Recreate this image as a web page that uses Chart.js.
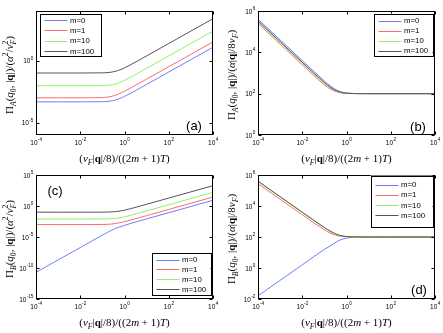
<!DOCTYPE html>
<html>
<head>
<meta charset="utf-8">
<script src="https://cdn.jsdelivr.net/npm/chart.js@4.4.1/dist/chart.umd.min.js"></script>
<style>
  html, body { margin: 0; padding: 0; background: #fff; }
  #wrap { position: relative; width: 443px; height: 333px; overflow: hidden; }
  canvas { position: absolute; }
</style>
</head>
<body>
<div id="wrap">
  <canvas id="pa" width="222" height="166" style="left:0;top:0"></canvas>
  <canvas id="pb" width="221" height="166" style="left:222px;top:0"></canvas>
  <canvas id="pc" width="222" height="167" style="left:0;top:166px"></canvas>
  <canvas id="pd" width="221" height="167" style="left:222px;top:166px"></canvas>
</div>
<script>
// x positions (v_F|q|/8)/((2m+1)T)
const xs = [1e-4, 1e-3, 1e-2, 0.1, 0.2, 0.4, 0.7, 1, 2, 4, 10, 100, 1000, 1e4];
const seriesNames = ['m=0', 'm=1', 'm=10', 'm=100'];

// (a) Pi_A / (alpha^2 / v_F^2)
const aM0   = [4.7e-4, 4.7e-4, 4.7e-4, 4.85e-4, 5.3e-4, 6.7e-4, 9.7e-4, 1.3e-3, 2.45e-3, 4.8e-3, 0.012, 0.12, 1.2, 12];
const aM1   = [1e-3, 1e-3, 1e-3, 1.05e-3, 1.19e-3, 1.63e-3, 2.47e-3, 3.4e-3, 6.5e-3, 0.013, 0.032, 0.32, 3.2, 32];
const aM10  = [0.0093, 0.0093, 0.0093, 0.0096, 0.0105, 0.0133, 0.019, 0.0256, 0.0485, 0.095, 0.24, 2.4, 24, 240];
const aM100 = [0.1, 0.1, 0.1, 0.103, 0.111, 0.138, 0.194, 0.258, 0.49, 0.96, 2.4, 24, 240, 2400];

// (b) Pi_A / (alpha|q|/8v_F)
const bM0   = [4e5, 4e4, 4000, 412, 224, 141, 115, 108, 102, 100.5, 100, 100, 100, 100];
const bM1   = [2.5e5, 2.5e4, 2500, 269, 160, 118, 106, 103, 101, 100.2, 100, 100, 100, 100];
const bM10  = [3e5, 3e4, 3000, 316, 180, 125, 109, 104.5, 101, 100.3, 100, 100, 100, 100];
const bM100 = [3.3e5, 3.3e4, 3300, 346, 194, 130, 111, 105, 101.4, 100.3, 100, 100, 100, 100];

// (c) Pi_B / (alpha^2 / v_F^2)
const cM0   = [2e-11, 2e-9, 2e-7, 2e-5, 7.5e-5, 2.5e-4, 5e-4, 7.5e-4, 1.6e-3, 3.3e-3, 8.3e-3, 0.083, 0.83, 8.3];
const cM1   = [1e-3, 1e-3, 1e-3, 1.04e-3, 1.14e-3, 1.5e-3, 2.2e-3, 2.95e-3, 5.6e-3, 0.011, 0.028, 0.28, 2.8, 28];
const cM10  = [0.008, 0.008, 0.008, 0.0082, 0.0086, 0.0102, 0.0138, 0.0179, 0.033, 0.0645, 0.16, 1.6, 16, 160];
const cM100 = [0.1, 0.1, 0.1, 0.102, 0.107, 0.125, 0.166, 0.214, 0.39, 0.76, 1.9, 19, 190, 1900];

// (d) Pi_B / (alpha|q|/8v_F)
const dM0   = [0.016, 0.16, 1.6, 15.8, 28.5, 53.9, 74.6, 84.8, 95.5, 98.8, 99.8, 100, 100, 100];
const dM1   = [2.75e5, 2.75e4, 2750, 293, 170, 121, 107, 104, 101, 100.2, 100, 100, 100, 100];
const dM10  = [3.8e5, 3.8e4, 3800, 393, 213, 138, 113, 107, 101.8, 100.45, 100, 100, 100, 100];
const dM100 = [4e5, 4e4, 4000, 412, 224, 141, 115, 108, 102, 100.5, 100, 100, 100, 100];

// tick values
const xTicks = [1e-4, 1e-2, 1, 1e2, 1e4];
const aTicks = [1e-5, 1];
const bTicks = [1, 1e2, 1e4, 1e6];
const cTicks = [1e-15, 1e-10, 1e-5, 1, 1e5];
const dTicks = [1e-2, 1, 1e2, 1e4, 1e6];

const colors = ['#6e7cff', '#ff6a6a', '#8ef26a', '#555555'];
const SANS = "'Liberation Sans', Arial, sans-serif";
const SERIF = "'Liberation Serif', 'DejaVu Serif', serif";

// little rich text drawer for the math labels
function drawRich(ctx, parts, cx, cy, size, rot) {
  const fonts = {
    r: size + 'px ' + SERIF,
    i: 'italic ' + size + 'px ' + SERIF,
    b: 'bold ' + size + 'px ' + SERIF,
    sub: 'italic ' + (size * 0.7) + 'px ' + SERIF,
    subr: (size * 0.7) + 'px ' + SERIF,
    sup: (size * 0.7) + 'px ' + SERIF
  };
  const items = [];
  let total = 0;
  parts.forEach(([t, k]) => {
    if (k === 'ss') {
      const [lo, hi] = t.split('|');
      ctx.font = fonts.sub; const w1 = ctx.measureText(lo).width;
      ctx.font = fonts.sup; const w2 = ctx.measureText(hi).width;
      items.push({ t: lo, f: fonts.sub, dy: size * 0.3, x: total });
      items.push({ t: hi, f: fonts.sup, dy: -size * 0.42, x: total });
      total += Math.max(w1, w2);
    } else {
      ctx.font = fonts[k];
      const w = ctx.measureText(t).width;
      const dy = (k === 'sub' || k === 'subr') ? size * 0.3 : (k === 'sup' ? -size * 0.42 : 0);
      items.push({ t: t, f: fonts[k], dy: dy, x: total });
      total += w;
    }
  });
  ctx.save();
  ctx.translate(cx, cy);
  ctx.rotate(rot);
  ctx.fillStyle = '#000';
  ctx.textAlign = 'left';
  ctx.textBaseline = 'alphabetic';
  items.forEach(it => {
    ctx.font = it.f;
    ctx.fillText(it.t, it.x - total / 2, size * 0.33 + it.dy);
  });
  ctx.restore();
}

const xTitle = [['(', 'r'], ['v', 'i'], ['F', 'sub'], ['|', 'r'], ['q', 'b'], ['|/8)/((2', 'r'], ['m', 'i'], [' + 1)', 'r'], ['T', 'i'], [')', 'r']];
function yTitle(sub, squared) {
  const head = [['Π', 'r'], [sub, 'sub'], ['(', 'r'], ['q', 'i'], ['0', 'subr'], [', |', 'r'], ['q', 'b'], ['|)/(', 'r'], ['α', 'i']];
  if (squared) return head.concat([['2', 'sup'], ['/', 'r'], ['v', 'i'], ['F|2', 'ss'], [')', 'r']]);
  return head.concat([['|', 'r'], ['q', 'b'], ['|/8', 'r'], ['v', 'i'], ['F', 'sub'], [')', 'r']]);
}

function powLabel(ctx, v, x, y, align) {
  const e = String(Math.round(Math.log10(v)));
  ctx.font = '6.5px ' + SANS;
  const w1 = ctx.measureText('10').width;
  ctx.font = '4.6px ' + SANS;
  const w2 = ctx.measureText(e).width;
  const x0 = align === 'right' ? x - w1 - w2 : x - (w1 + w2) / 2;
  ctx.fillStyle = '#000';
  ctx.textAlign = 'left';
  ctx.textBaseline = 'alphabetic';
  ctx.font = '6.5px ' + SANS;
  ctx.fillText('10', x0, y);
  ctx.font = '4.6px ' + SANS;
  ctx.fillText(e, x0 + w1 + 0.3, y - 3.6);
}

const decor = {
  id: 'decor',
  afterDraw(chart, args, o) {
    const { ctx, chartArea: a, scales } = chart;
    const sx = scales.x, sy = scales.y;
    const L = Math.round(a.left) + 0.5, R = Math.round(a.right) - 0.5;
    const T = Math.round(a.top) + 0.5, B = Math.round(a.bottom) - 0.5;
    ctx.save();
    ctx.strokeStyle = '#000';
    ctx.lineWidth = 1;
    ctx.strokeRect(L, T, R - L, B - T);
    // inward tick marks + labels
    ctx.beginPath();
    xTicks.forEach(v => {
      const px = Math.round(sx.getPixelForValue(v)) + 0.5;
      ctx.moveTo(px, B); ctx.lineTo(px, B - 3);
      ctx.moveTo(px, T); ctx.lineTo(px, T + 3);
    });
    o.yTicks.forEach(v => {
      const py = Math.round(sy.getPixelForValue(v)) + 0.5;
      ctx.moveTo(L, py); ctx.lineTo(L + 3, py);
      ctx.moveTo(R, py); ctx.lineTo(R - 3, py);
    });
    ctx.stroke();
    xTicks.forEach(v => powLabel(ctx, v, sx.getPixelForValue(v), a.bottom + 10, 'center'));
    o.yTicks.forEach(v => powLabel(ctx, v, a.left - 3, sy.getPixelForValue(v) + 2.5, 'right'));
    // axis titles
    drawRich(ctx, xTitle, (a.left + a.right) / 2, a.bottom + 23, 11, 0);
    drawRich(ctx, o.yTitle, 9, (a.top + a.bottom) / 2 + 2, 11, -Math.PI / 2);
    // legend box
    const lg = o.legend;
    ctx.fillStyle = '#fff';
    ctx.fillRect(lg.x, lg.y, lg.w, lg.h);
    ctx.strokeStyle = '#000';
    ctx.strokeRect(Math.round(lg.x) + 0.5, Math.round(lg.y) + 0.5, Math.round(lg.w), Math.round(lg.h));
    ctx.font = '7.8px ' + SANS;
    ctx.textBaseline = 'middle';
    ctx.textAlign = 'left';
    chart.data.datasets.forEach((ds, i) => {
      const yy = lg.y + lg.first + i * lg.step;
      ctx.strokeStyle = ds.borderColor;
      ctx.beginPath();
      ctx.moveTo(lg.x + 5, Math.round(yy) + 0.5);
      ctx.lineTo(lg.x + 28, Math.round(yy) + 0.5);
      ctx.stroke();
      ctx.fillStyle = '#000';
      ctx.fillText(ds.label, lg.x + 30.5, yy + 0.5);
    });
    // panel letter
    ctx.font = '13px ' + SANS;
    ctx.fillStyle = '#000';
    ctx.textAlign = 'center';
    ctx.textBaseline = 'alphabetic';
    ctx.fillText(o.letter, o.lx, o.ly);
    ctx.restore();
  }
};

function makePanel(id, series, yMin, yMax, yTicks, opts) {
  const canvas = document.getElementById(id);
  const W = canvas.width, H = canvas.height;
  new Chart(canvas, {
    type: 'line',
    data: {
      datasets: series.map((vals, i) => ({
        label: seriesNames[i],
        data: xs.map((x, k) => ({ x: x, y: vals[k] })),
        borderColor: colors[i],
        borderWidth: 1,
        pointRadius: 0,
        cubicInterpolationMode: 'monotone',
        order: series.length - i,
        clip: 0
      }))
    },
    options: {
      responsive: false,
      animation: false,
      events: [],
      layout: { padding: { top: opts.top, right: W - 213, left: 0, bottom: 0 } },
      plugins: {
        legend: { display: false },
        tooltip: { enabled: false },
        decor: {
          yTicks: yTicks,
          yTitle: opts.yTitle,
          legend: opts.legend,
          letter: opts.letter, lx: opts.lx, ly: opts.ly
        }
      },
      scales: {
        x: {
          type: 'logarithmic', min: 1e-4, max: 1e4,
          grid: { display: false, drawTicks: false },
          border: { display: false },
          ticks: { display: false },
          afterBuildTicks: s => { s.ticks = xTicks.map(v => ({ value: v })); },
          afterFit: s => { s.height = H - opts.bottom; }
        },
        y: {
          type: 'logarithmic', min: yMin, max: yMax,
          grid: { display: false, drawTicks: false },
          border: { display: false },
          ticks: { display: false },
          afterBuildTicks: s => { s.ticks = yTicks.map(v => ({ value: v })); },
          afterFit: s => { s.width = 36; }
        }
      }
    },
    plugins: [decor]
  });
}

makePanel('pa', [aM0, aM1, aM10, aM100], 1e-6, 1e4, aTicks, {
  top: 11, bottom: 135, yTitle: yTitle('A', true),
  legend: { x: 39.5, y: 14, w: 61, h: 42, first: 6, step: 10.3 },
  letter: '(a)', lx: 194, ly: 130
});
makePanel('pb', [bM0, bM1, bM10, bM100], 1, 1e6, bTicks, {
  top: 11, bottom: 135, yTitle: yTitle('A', false),
  legend: { x: 151.5, y: 13.5, w: 59, h: 42, first: 7, step: 10 },
  letter: '(b)', lx: 196, ly: 131
});
makePanel('pc', [cM0, cM1, cM10, cM100], 1e-15, 1e5, cTicks, {
  top: 9, bottom: 133, yTitle: yTitle('B', true),
  legend: { x: 151.5, y: 86.5, w: 59, h: 42, first: 7, step: 9.9 },
  letter: '(c)', lx: 55, ly: 28.5
});
makePanel('pd', [dM0, dM1, dM10, dM100], 1e-2, 1e6, dTicks, {
  top: 9, bottom: 133, yTitle: yTitle('B', false),
  legend: { x: 148.5, y: 9.5, w: 62, h: 51, first: 9, step: 10.3 },
  letter: '(d)', lx: 197, ly: 128
});
</script>
</body>
</html>
